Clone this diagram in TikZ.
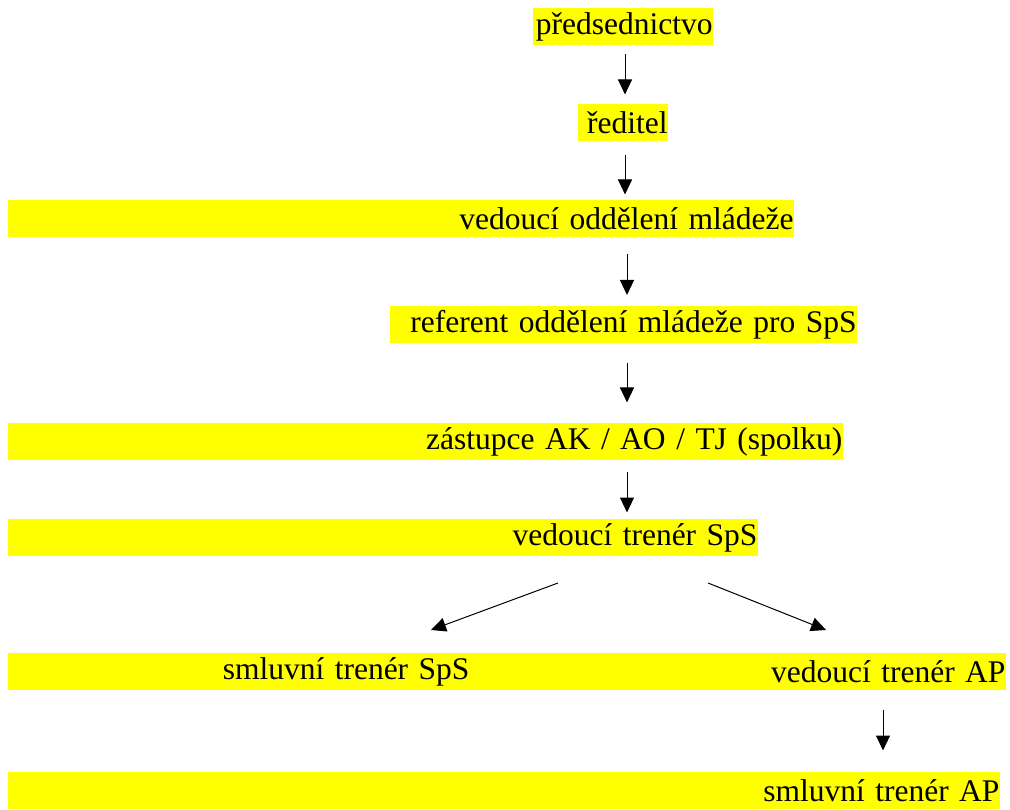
\documentclass[tikz,border=0pt]{standalone}
\usepackage{fontspec}
\setmainfont{Liberation Serif}
\usetikzlibrary{arrows.meta,positioning}

\definecolor{hlyellow}{RGB}{255,255,0}

\tikzset{
    bar/.style={fill=hlyellow, inner sep=0pt, minimum height=37pt, align=right, anchor=east,
        font=\fontsize{31.5}{38}\selectfont},
}

\begin{document}
\begin{tikzpicture}[x=1pt, y=-1pt, >={Triangle[width=14pt,length=15pt]}, line width=1pt]
    \useasboundingbox (0,0) rectangle (1010,810);

    \node[bar, text width=180pt] (pred) at (713,26.5) {předsednictvo};
    \node[bar, text width=90pt] (red) at (668,122.5) {ředitel};
    \node[bar, text width=786pt] (vod) at (794,218.5) {vedoucí oddělení mládeže};
    \node[bar, text width=467pt] (ref) at (857,325) {referent oddělení mládeže pro SpS};
    \node[bar, text width=835pt] (zast) at (843,441.5) {zástupce AK / AO / TJ (spolku)};
    \node[bar, text width=750pt] (vts) at (758,537.5) {vedoucí trenér SpS};
    \node[bar, text width=462pt] (sts) at (470,671.5) {smluvní trenér SpS};
    \node[bar, text width=536pt] (vtap) at (1006,671.5) {vedoucí trenér AP};
    \node[bar, text width=992pt] (stap) at (1000,790.5) {smluvní trenér AP};

    % axis of the vertical arrows
    \coordinate (ax1) at (625,0);
    \coordinate (ax2) at (627,0);
    \coordinate (ax3) at (883,0);
    % split below vts
    \coordinate (lt) at (558,583);
    \coordinate (ltend) at (431,630);
    \coordinate (rt) at (708,583);
    \coordinate (rtend) at (826,630);

    \draw[->, shorten <=9pt, shorten >=9pt] (pred.south -| ax1) -- (red.north -| ax1);
    \draw[->, shorten <=14pt, shorten >=5pt] (red.south -| ax1) -- (vod.north -| ax1);
    \draw[->, shorten <=17pt, shorten >=11pt] (vod.south -| ax2) -- (ref.north -| ax2);
    \draw[->, shorten <=19pt, shorten >=20pt] (ref.south -| ax2) -- (zast.north -| ax2);
    \draw[->, shorten <=11pt, shorten >=6pt] (zast.south -| ax2) -- (vts.north -| ax2);
    \draw[->] (lt) -- (ltend);
    \draw[->] (rt) -- (rtend);
    \draw[->, shorten <=19pt, shorten >=21pt] (vtap.south -| ax3) -- (stap.north -| ax3);
\end{tikzpicture}
\end{document}
